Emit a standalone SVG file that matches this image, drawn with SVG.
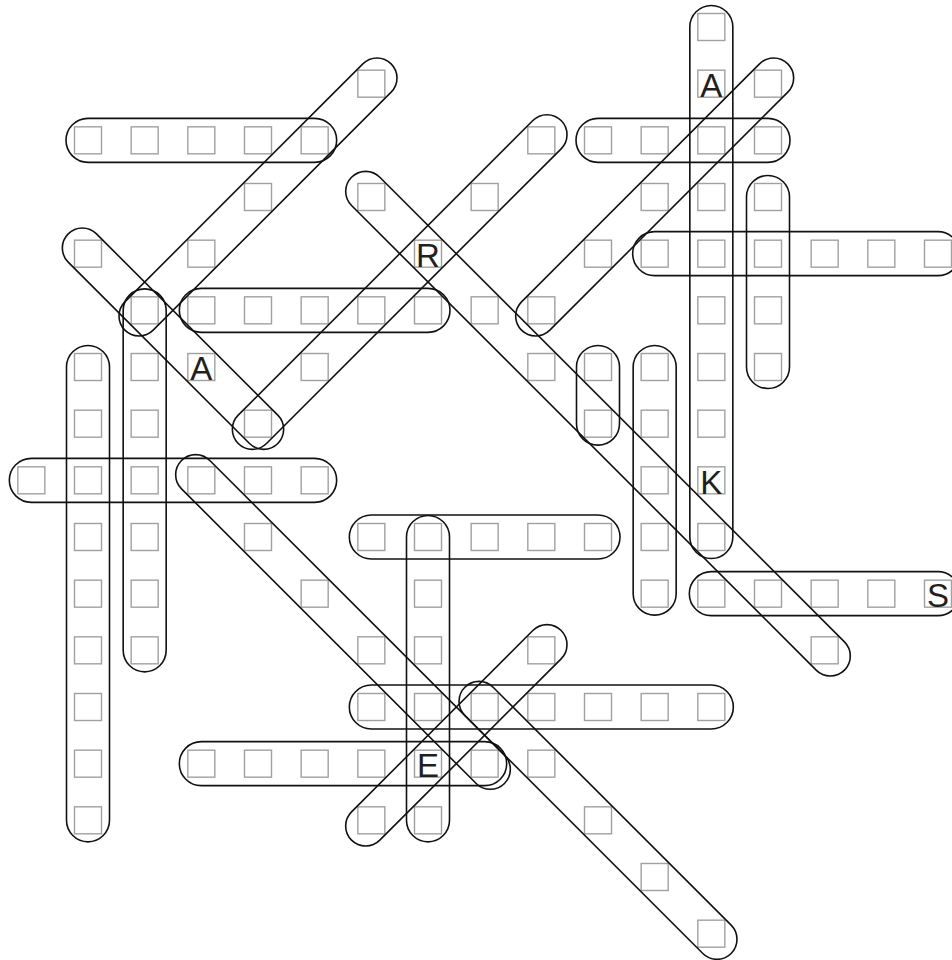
<svg xmlns="http://www.w3.org/2000/svg" width="952" height="960" viewBox="0 0 952 960">
<style>
.c{fill:none;stroke:#a0a0a0;stroke-width:1.4}
.w{fill:none;stroke:#111;stroke-width:1.6}
.t{font-family:"Liberation Sans",Arial,sans-serif;font-size:33px;fill:#231f20;text-anchor:middle}
</style>
<defs><rect id="b" class="c" x="-13.5" y="-13.5" width="27" height="27"/></defs>
<rect width="952" height="960" fill="#fff"/>
<g id="cells">
<use href="#b" x="711.33" y="27"/>
<use href="#b" x="371.33" y="83.67"/><use href="#b" x="711.33" y="83.67"/><use href="#b" x="768" y="83.67"/>
<use href="#b" x="88" y="140.33"/><use href="#b" x="144.67" y="140.33"/><use href="#b" x="201.33" y="140.33"/><use href="#b" x="258" y="140.33"/><use href="#b" x="314.67" y="140.33"/><use href="#b" x="541.33" y="140.33"/><use href="#b" x="598" y="140.33"/><use href="#b" x="654.67" y="140.33"/><use href="#b" x="711.33" y="140.33"/><use href="#b" x="768" y="140.33"/>
<use href="#b" x="258" y="197"/><use href="#b" x="371.33" y="197"/><use href="#b" x="484.67" y="197"/><use href="#b" x="654.67" y="197"/><use href="#b" x="711.33" y="197"/><use href="#b" x="768" y="197"/>
<use href="#b" x="88" y="253.67"/><use href="#b" x="201.33" y="253.67"/><use href="#b" x="428" y="253.67"/><use href="#b" x="598" y="253.67"/><use href="#b" x="654.67" y="253.67"/><use href="#b" x="711.33" y="253.67"/><use href="#b" x="768" y="253.67"/><use href="#b" x="824.67" y="253.67"/><use href="#b" x="881.33" y="253.67"/><use href="#b" x="938" y="253.67"/>
<use href="#b" x="144.67" y="310.33"/><use href="#b" x="201.33" y="310.33"/><use href="#b" x="258" y="310.33"/><use href="#b" x="314.67" y="310.33"/><use href="#b" x="371.33" y="310.33"/><use href="#b" x="428" y="310.33"/><use href="#b" x="484.67" y="310.33"/><use href="#b" x="541.33" y="310.33"/><use href="#b" x="711.33" y="310.33"/><use href="#b" x="768" y="310.33"/>
<use href="#b" x="88" y="367"/><use href="#b" x="144.67" y="367"/><use href="#b" x="201.33" y="367"/><use href="#b" x="314.67" y="367"/><use href="#b" x="541.33" y="367"/><use href="#b" x="598" y="367"/><use href="#b" x="654.67" y="367"/><use href="#b" x="711.33" y="367"/><use href="#b" x="768" y="367"/>
<use href="#b" x="88" y="423.67"/><use href="#b" x="144.67" y="423.67"/><use href="#b" x="258" y="423.67"/><use href="#b" x="598" y="423.67"/><use href="#b" x="654.67" y="423.67"/><use href="#b" x="711.33" y="423.67"/>
<use href="#b" x="31.33" y="480.33"/><use href="#b" x="88" y="480.33"/><use href="#b" x="144.67" y="480.33"/><use href="#b" x="201.33" y="480.33"/><use href="#b" x="258" y="480.33"/><use href="#b" x="314.67" y="480.33"/><use href="#b" x="654.67" y="480.33"/><use href="#b" x="711.33" y="480.33"/>
<use href="#b" x="88" y="537"/><use href="#b" x="144.67" y="537"/><use href="#b" x="258" y="537"/><use href="#b" x="371.33" y="537"/><use href="#b" x="428" y="537"/><use href="#b" x="484.67" y="537"/><use href="#b" x="541.33" y="537"/><use href="#b" x="598" y="537"/><use href="#b" x="654.67" y="537"/><use href="#b" x="711.33" y="537"/>
<use href="#b" x="88" y="593.67"/><use href="#b" x="144.67" y="593.67"/><use href="#b" x="314.67" y="593.67"/><use href="#b" x="428" y="593.67"/><use href="#b" x="654.67" y="593.67"/><use href="#b" x="711.33" y="593.67"/><use href="#b" x="768" y="593.67"/><use href="#b" x="824.67" y="593.67"/><use href="#b" x="881.33" y="593.67"/><use href="#b" x="938" y="593.67"/>
<use href="#b" x="88" y="650.33"/><use href="#b" x="144.67" y="650.33"/><use href="#b" x="371.33" y="650.33"/><use href="#b" x="428" y="650.33"/><use href="#b" x="541.33" y="650.33"/><use href="#b" x="824.67" y="650.33"/>
<use href="#b" x="88" y="707"/><use href="#b" x="371.33" y="707"/><use href="#b" x="428" y="707"/><use href="#b" x="484.67" y="707"/><use href="#b" x="541.33" y="707"/><use href="#b" x="598" y="707"/><use href="#b" x="654.67" y="707"/><use href="#b" x="711.33" y="707"/>
<use href="#b" x="88" y="763.67"/><use href="#b" x="201.33" y="763.67"/><use href="#b" x="258" y="763.67"/><use href="#b" x="314.67" y="763.67"/><use href="#b" x="371.33" y="763.67"/><use href="#b" x="428" y="763.67"/><use href="#b" x="484.67" y="763.67"/><use href="#b" x="541.33" y="763.67"/>
<use href="#b" x="88" y="820.33"/><use href="#b" x="371.33" y="820.33"/><use href="#b" x="428" y="820.33"/><use href="#b" x="598" y="820.33"/>
<use href="#b" x="654.67" y="877"/>
<use href="#b" x="711.33" y="933.67"/>
</g>
<g id="letters">
<text class="t" x="711.33" y="97">A</text>
<text class="t" x="428" y="267">R</text>
<text class="t" x="201.33" y="380.3">A</text>
<text class="t" x="711.33" y="493.6">K</text>
<text class="t" x="938" y="607">S</text>
<text class="t" x="428" y="777">E</text>
</g>
<g id="words">
<rect class="w" x="66" y="118.33" width="270.67" height="44" rx="22"/>
<rect class="w" x="576" y="118.33" width="214" height="44" rx="22"/>
<rect class="w" x="632.67" y="231.67" width="327.33" height="44" rx="22"/>
<rect class="w" x="179.33" y="288.33" width="270.67" height="44" rx="22"/>
<rect class="w" x="9.33" y="458.33" width="327.33" height="44" rx="22"/>
<rect class="w" x="349.33" y="515" width="270.67" height="44" rx="22"/>
<rect class="w" x="689.33" y="571.67" width="270.67" height="44" rx="22"/>
<rect class="w" x="349.33" y="685" width="384" height="44" rx="22"/>
<rect class="w" x="179.33" y="741.67" width="327.33" height="44" rx="22"/>
<rect class="w" x="689.83" y="5.5" width="43" height="553" rx="21.5"/>
<rect class="w" x="746.5" y="175.5" width="43" height="213" rx="21.5"/>
<rect class="w" x="66.5" y="345.5" width="43" height="496.33" rx="21.5"/>
<rect class="w" x="123.17" y="288.83" width="43" height="383" rx="21.5"/>
<rect class="w" x="576.5" y="345.5" width="43" height="99.67" rx="21.5"/>
<rect class="w" x="633.17" y="345.5" width="43" height="269.67" rx="21.5"/>
<rect class="w" x="406.5" y="515.5" width="43" height="326.33" rx="21.5"/>
<rect class="w" transform="translate(88 253.67) rotate(45)" x="-28" y="-20" width="296.42" height="40" rx="20"/>
<rect class="w" transform="translate(258 423.67) rotate(-45)" x="-28" y="-20" width="456.7" height="40" rx="20"/>
<rect class="w" transform="translate(371.33 197) rotate(45)" x="-28" y="-20" width="697.1" height="40" rx="20"/>
<rect class="w" transform="translate(144.67 310.33) rotate(-45)" x="-28" y="-20" width="376.56" height="40" rx="20"/>
<rect class="w" transform="translate(541.33 310.33) rotate(-45)" x="-28" y="-20" width="376.56" height="40" rx="20"/>
<rect class="w" transform="translate(201.33 480.33) rotate(45)" x="-28" y="-20" width="456.7" height="40" rx="20"/>
<rect class="w" transform="translate(484.67 707) rotate(45)" x="-28" y="-20" width="376.56" height="40" rx="20"/>
<rect class="w" transform="translate(371.33 820.33) rotate(-45)" x="-28" y="-20" width="296.42" height="40" rx="20"/>
</g>
</svg>
